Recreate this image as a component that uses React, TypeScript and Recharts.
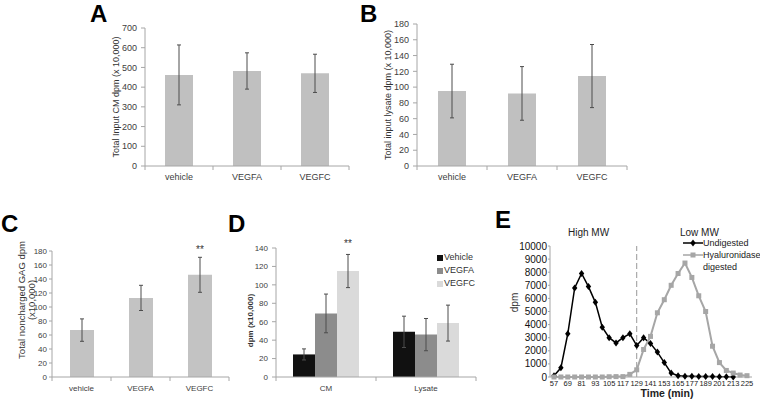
import React from "react";
import {
  BarChart,
  Bar,
  LineChart,
  Line,
  XAxis,
  YAxis,
  ErrorBar,
  LabelList,
  Legend,
  ReferenceLine,
} from "recharts";

const FONT = '"Liberation Sans", Arial, sans-serif';
const AXIS = "#a6a6a6";
const TEXT = "#404040";

// A and B: input dpm
const groups = ["vehicle", "VEGFA", "VEGFC"];
const inputCM = [462, 482, 470];
const inputCMErr = [152, 92, 97];
const inputLysate = [95, 92, 114];
const inputLysateErr = [34, 34, 40];

// C: noncharged GAG
const gagTotal = [67, 113, 146];
const gagErr = [16, 18, 25];
const gagSig = ["", "", "**"];

// D: CM vs lysate
const fractions = ["CM", "Lysate"];
const dSeries = ["Vehicle", "VEGFA", "VEGFC"];
const dVehicle = [24.5, 49];
const dVehicleErr = [6, 17];
const dVEGFA = [69, 46];
const dVEGFAErr = [21, 17.5];
const dVEGFC = [115, 58.5];
const dVEGFCErr = [18, 19.5];
const dSig = ["**", ""];

// E: elution profile
const eSeries = ["Undigested", "Hyaluronidase digested"];
const times = [
  57, 63, 69, 75, 81, 87, 93, 99, 105, 111, 117, 123, 129, 135, 141, 147, 153,
  159, 165, 171, 177, 183, 189, 195, 201, 207, 213, 219, 225,
];
const undigested = [
  100, 700, 3300, 6800, 7900, 6900, 5700, 3800, 3000, 2600, 3000, 3300, 2400,
  3000, 2550, 1900, 1100, 300, 100, 60, 50, 40, 40, 30, 20, 10, 0, null, null,
];
const digested = [
  0, 0, 0, 0, 0, 0, 0, 0, 20, 30, 30, 200, 550, 2100, 3100, 4900, 5900, 7000,
  7900, 8700, 7600, 6200, 5000, 2350, 1100, 500, 300, 150, 100,
];

const ticks700 = [0, 100, 200, 300, 400, 500, 600, 700];
const ticks180 = [0, 20, 40, 60, 80, 100, 120, 140, 160, 180];
const ticks140 = [0, 20, 40, 60, 80, 100, 120, 140];
const ticks10k = [0, 1000, 2000, 3000, 4000, 5000, 6000, 7000, 8000, 9000, 10000];

const abData = groups.map((g, i) => ({
  name: g,
  cm: inputCM[i],
  cmErr: inputCMErr[i],
  lys: inputLysate[i],
  lysErr: inputLysateErr[i],
}));

const cData = groups.map((g, i) => ({
  name: g,
  gag: gagTotal[i],
  err: gagErr[i],
  sig: gagSig[i],
}));

const dData = fractions.map((f, i) => ({
  name: f,
  Vehicle: dVehicle[i],
  vErr: dVehicleErr[i],
  VEGFA: dVEGFA[i],
  aErr: dVEGFAErr[i],
  VEGFC: dVEGFC[i],
  cErr: dVEGFCErr[i],
  sig: dSig[i],
}));

const eData = times.map((t, i) => ({ t, und: undigested[i], dig: digested[i] }));

// keep legend entries in series order (recharts sorts them by name otherwise)
const inOrder = (payload: any[] = [], order: string[]) =>
  [...payload].sort((a, b) => order.indexOf(a.value) - order.indexOf(b.value));

// category tick with the little marks sitting between the groups (Excel style)
const groupTick = (fs: number) =>
  function GroupTick(props: any) {
    const { x, y, payload, index, visibleTicksCount, width } = props;
    const half =
      payload?.offset ||
      (width && visibleTicksCount ? width / visibleTicksCount / 2 : 0);
    const axisY = y - 8;
    return (
      <g>
        <line x1={x - half} x2={x - half} y1={axisY} y2={axisY + 4} stroke={AXIS} />
        {index === visibleTicksCount - 1 && (
          <line x1={x + half} x2={x + half} y1={axisY} y2={axisY + 4} stroke={AXIS} />
        )}
        <text x={x} y={y} dy="0.71em" textAnchor="middle" fontSize={fs} fill={TEXT} fontFamily={FONT}>
          {payload.value}
        </text>
      </g>
    );
  };

// significance stars above a bar
const stars = (gap: number) =>
  function Stars(props: any) {
    const { x, y, width, value } = props;
    if (!value) return null;
    return (
      <text x={x + width / 2} y={y - gap} textAnchor="middle" fontSize={10} fill="#333" fontFamily={FONT}>
        {value}
      </text>
    );
  };

const yTitle = (lines: string[], dx: number, dy: number, fs: number, bold = false) =>
  function Title(props: any) {
    const vb = props.viewBox || { x: 0, y: 0, width: 0, height: 0 };
    const cx = vb.x + dx;
    const cy = vb.y + vb.height / 2 + dy;
    return (
      <text
        transform={`rotate(-90 ${cx} ${cy})`}
        x={cx}
        y={cy}
        textAnchor="middle"
        fontSize={fs}
        fontWeight={bold ? "bold" : "normal"}
        fill="#333"
        fontFamily={FONT}
      >
        {lines.map((l, i) => (
          <tspan key={i} x={cx} dy={i === 0 ? 0 : fs * 1.05}>
            {l}
          </tspan>
        ))}
      </text>
    );
  };

const xTitle = (text: string, dx: number, dy: number, fs: number) =>
  function Title(props: any) {
    const vb = props.viewBox || { x: 0, y: 0, width: 0, height: 0 };
    return (
      <text
        x={vb.x + vb.width / 2 + dx}
        y={vb.y + dy}
        textAnchor="middle"
        fontSize={fs}
        fontWeight="bold"
        fill="#222"
        fontFamily={FONT}
      >
        {text}
      </text>
    );
  };

const Diamond = (props: any) => {
  const { cx, cy, key } = props;
  if (cx == null || cy == null || props.value == null) return <g key={key} />;
  return (
    <polygon
      key={key}
      points={`${cx},${cy - 3.5} ${cx + 2.7},${cy} ${cx},${cy + 3.5} ${cx - 2.7},${cy}`}
      fill="#000"
    />
  );
};

const Square = (props: any) => {
  const { cx, cy, key } = props;
  if (cx == null || cy == null || props.value == null) return <g key={key} />;
  return <rect key={key} x={cx - 2.5} y={cy - 2.5} width={5} height={5} fill="#a6a6a6" />;
};

const DLegend = ({ payload }: any) => (
  <div style={{ fontSize: 9, lineHeight: "13px", color: "#333", fontFamily: FONT }}>
    {inOrder(payload, dSeries).map((p: any) => (
      <div key={p.value} style={{ display: "flex", alignItems: "center" }}>
        <span style={{ width: 6, height: 6, background: p.color, marginRight: 1, display: "inline-block" }} />
        {p.value}
      </div>
    ))}
  </div>
);

const ELegend = ({ payload }: any) => (
  <div style={{ fontSize: 9, lineHeight: "12px", color: "#222", fontFamily: FONT }}>
    {inOrder(payload, eSeries).map((p: any) => (
      <div key={p.value} style={{ display: "flex", alignItems: "flex-start" }}>
        <svg width={20} height={8} style={{ flex: "none", marginTop: 2 }}>
          <line x1={0} x2={20} y1={4} y2={4} stroke={p.color} strokeWidth={1.5} />
          {p.dataKey === "und" ? (
            <polygon points="10,0.5 12.7,4 10,7.5 7.3,4" fill={p.color} />
          ) : (
            <rect x={7.5} y={1.5} width={5} height={5} fill={p.color} />
          )}
        </svg>
        <span>{p.value}</span>
      </div>
    ))}
  </div>
);

const Letter = ({ ch, left, top }: { ch: string; left: number; top: number }) => (
  <div
    style={{
      position: "absolute",
      left,
      top,
      fontSize: 24,
      lineHeight: "24px",
      fontWeight: "bold",
      fontFamily: FONT,
      color: "#000",
    }}
  >
    {ch}
  </div>
);

const note = (text: string, left: number, top: number) => (
  <div
    style={{
      position: "absolute",
      left,
      top,
      fontSize: 10,
      lineHeight: "12px",
      fontFamily: FONT,
      color: "#222",
      whiteSpace: "nowrap",
    }}
  >
    {text}
  </div>
);

export default function App() {
  return (
    <div
      style={{
        position: "absolute",
        left: 0,
        top: 0,
        width: 760,
        height: 407,
        overflow: "hidden",
        background: "#fff",
        fontFamily: FONT,
      }}
    >
      {/* A */}
      <div style={{ position: "absolute", left: 60, top: 0 }}>
        <BarChart width={310} height={200} data={abData} margin={{ top: 28, right: 21, bottom: 4, left: 0 }}>
          <XAxis dataKey="name" height={30} interval={0} tickSize={5} tickMargin={3} tickLine={false}
            axisLine={{ stroke: AXIS }} tick={groupTick(9)} />
          <YAxis width={85} domain={[0, 700]} ticks={ticks700} interval={0} tickSize={4} tickMargin={4}
            axisLine={{ stroke: AXIS }} tickLine={{ stroke: AXIS }}
            tick={{ fontSize: 9, fill: TEXT, fontFamily: FONT }}
            label={yTitle(["Total Input CM dpm (x 10,000)"], 59, 0, 9)} />
          <Bar dataKey="cm" fill="#c0c0c0" barSize={28} isAnimationActive={false}>
            <ErrorBar dataKey="cmErr" width={2} stroke="#4d4d4d" strokeWidth={1} />
          </Bar>
        </BarChart>
      </div>

      {/* B */}
      <div style={{ position: "absolute", left: 340, top: 0 }}>
        <BarChart width={310} height={200} data={abData} margin={{ top: 24, right: 23, bottom: 4, left: 0 }}>
          <XAxis dataKey="name" height={30} interval={0} tickSize={5} tickMargin={3} tickLine={false}
            axisLine={{ stroke: AXIS }} tick={groupTick(9)} />
          <YAxis width={77} domain={[0, 180]} ticks={ticks180} interval={0} tickSize={4} tickMargin={4}
            axisLine={{ stroke: AXIS }} tickLine={{ stroke: AXIS }}
            tick={{ fontSize: 9, fill: TEXT, fontFamily: FONT }}
            label={yTitle(["Total input lysate dpm (x 10,000)"], 51, 0, 9)} />
          <Bar dataKey="lys" fill="#c0c0c0" barSize={28} isAnimationActive={false}>
            <ErrorBar dataKey="lysErr" width={2} stroke="#4d4d4d" strokeWidth={1} />
          </Bar>
        </BarChart>
      </div>

      {/* C */}
      <div style={{ position: "absolute", left: 0, top: 200 }}>
        <BarChart width={240} height={207} data={cData} margin={{ top: 51, right: 11, bottom: 10, left: 0 }}>
          <XAxis dataKey="name" height={20} interval={0} tickSize={5} tickMargin={3} tickLine={false}
            axisLine={{ stroke: AXIS }} tick={groupTick(8)} />
          <YAxis width={52} domain={[0, 180]} ticks={ticks180} interval={0} tickSize={3} tickMargin={2}
            axisLine={{ stroke: AXIS }} tickLine={{ stroke: AXIS }}
            tick={{ fontSize: 8, fill: TEXT, fontFamily: FONT }}
            label={yTitle(["Total noncharged GAG dpm", "(x10,000)"], 25, -14, 9.5)} />
          <Bar dataKey="gag" fill="#c3c3c3" barSize={24} isAnimationActive={false}>
            <ErrorBar dataKey="err" width={2} stroke="#4d4d4d" strokeWidth={1} />
            <LabelList dataKey="sig" content={stars(22)} />
          </Bar>
        </BarChart>
      </div>

      {/* D */}
      <div style={{ position: "absolute", left: 230, top: 200 }}>
        <BarChart width={260} height={207} data={dData} barGap={0} margin={{ top: 48, right: 14, bottom: 5, left: 0 }}>
          <XAxis dataKey="name" height={25} interval={0} tickSize={5} tickMargin={3} tickLine={false}
            axisLine={{ stroke: AXIS }} tick={groupTick(8)} />
          <YAxis width={46} domain={[0, 140]} ticks={ticks140} interval={0} tickSize={4} tickMargin={4}
            axisLine={{ stroke: AXIS }} tickLine={{ stroke: AXIS }}
            tick={{ fontSize: 8, fill: TEXT, fontFamily: FONT }}
            label={yTitle(["dpm (x10,000)"], 23, 8, 8, true)} />
          <Legend layout="vertical" align="center" verticalAlign="middle" content={DLegend}
            wrapperStyle={{ left: 207, top: 51, width: 50 }} />
          <Bar dataKey="Vehicle" fill="#111111" barSize={22} isAnimationActive={false}>
            <ErrorBar dataKey="vErr" width={2} stroke="#4d4d4d" strokeWidth={1} />
          </Bar>
          <Bar dataKey="VEGFA" fill="#8c8c8c" barSize={22} isAnimationActive={false}>
            <ErrorBar dataKey="aErr" width={2} stroke="#4d4d4d" strokeWidth={1} />
          </Bar>
          <Bar dataKey="VEGFC" fill="#dadada" barSize={22} isAnimationActive={false}>
            <ErrorBar dataKey="cErr" width={2} stroke="#4d4d4d" strokeWidth={1} />
            <LabelList dataKey="sig" content={stars(24)} />
          </Bar>
        </BarChart>
      </div>

      {/* E */}
      <div style={{ position: "absolute", left: 490, top: 200 }}>
        <LineChart width={270} height={207} data={eData} margin={{ top: 46, right: 8, bottom: 8, left: 0 }}>
          <XAxis dataKey="t" height={22} interval={1} tickSize={0} tickMargin={4} tickLine={false}
            padding={{ left: 4, right: 5 }} axisLine={{ stroke: AXIS }}
            tick={{ fontSize: 7.5, fill: "#222", fontFamily: FONT }}
            label={xTitle("Time (min)", 16, 20, 10.5)} />
          <YAxis width={60} domain={[0, 10000]} ticks={ticks10k} interval={0} tickSize={2} tickMargin={1}
            axisLine={{ stroke: AXIS }} tickLine={{ stroke: AXIS }}
            tick={{ fontSize: 10, fill: "#111", fontFamily: FONT }}
            label={yTitle(["dpm"], 28, -9, 10)} />
          <ReferenceLine x={129} stroke="#999" strokeDasharray="6 3" />
          <Legend layout="vertical" align="center" verticalAlign="middle" content={ELegend}
            wrapperStyle={{ left: 193, top: 37, width: 80 }} />
          <Line dataKey="und" name="Undigested" stroke="#000" strokeWidth={1.5} dot={Diamond}
            activeDot={false} isAnimationActive={false} />
          <Line dataKey="dig" name="Hyaluronidase digested" stroke="#a6a6a6" strokeWidth={2} dot={Square}
            activeDot={false} isAnimationActive={false} />
        </LineChart>
      </div>

      <Letter ch="A" left={90} top={2} />
      <Letter ch="B" left={360} top={2} />
      <Letter ch="C" left={1} top={212} />
      <Letter ch="D" left={228} top={212} />
      <Letter ch="E" left={495} top={208} />
      {note("High MW", 568, 227)}
      {note("Low MW", 680, 227)}
    </div>
  );
}
